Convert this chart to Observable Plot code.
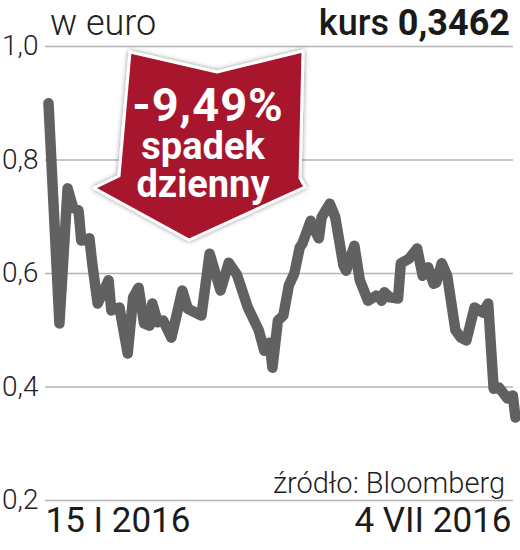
<!DOCTYPE html>
<html>
<head>
<meta charset="utf-8">
<script src="https://cdn.jsdelivr.net/npm/d3@7"></script>
<script src="https://cdn.jsdelivr.net/npm/@observablehq/plot@0.6"></script>
<style>
  html, body { margin: 0; padding: 0; background: #fff; }
  #wrap { position: relative; width: 520px; height: 550px; overflow: hidden; }
  #wrap svg.overlay { position: absolute; left: 0; top: 0; pointer-events: none; }
</style>
</head>
<body>
<div id="wrap"></div>
<script>
const dates = [
  "2016-01-15","2016-01-19","2016-01-22","2016-01-24","2016-01-26","2016-01-27","2016-01-30","2016-01-31",
  "2016-02-02","2016-02-06","2016-02-07","2016-02-10","2016-02-13","2016-02-15","2016-02-17","2016-02-19",
  "2016-02-21","2016-02-22","2016-02-24","2016-02-26","2016-02-29","2016-03-04","2016-03-06","2016-03-11",
  "2016-03-14","2016-03-18","2016-03-21","2016-03-24","2016-03-28","2016-04-01","2016-04-03","2016-04-05",
  "2016-04-06","2016-04-08","2016-04-10","2016-04-12","2016-04-14","2016-04-16","2016-04-17","2016-04-20",
  "2016-04-21","2016-04-23","2016-04-24","2016-04-27","2016-04-29","2016-05-02","2016-05-03","2016-05-06",
  "2016-05-08","2016-05-11","2016-05-14","2016-05-15","2016-05-16","2016-05-17","2016-05-19","2016-05-22",
  "2016-05-23","2016-05-26","2016-05-29","2016-05-31","2016-06-02","2016-06-04","2016-06-05","2016-06-07",
  "2016-06-09","2016-06-12","2016-06-14","2016-06-16","2016-06-19","2016-06-22","2016-06-24","2016-06-26",
  "2016-06-28","2016-07-01","2016-07-03","2016-07-04"
];
const values = [
  0.900,0.512,0.750,0.716,0.711,0.658,0.662,0.618,
  0.547,0.588,0.535,0.540,0.459,0.558,0.575,0.512,
  0.508,0.547,0.514,0.517,0.487,0.570,0.538,0.526,
  0.635,0.570,0.619,0.598,0.540,0.500,0.464,0.478,
  0.434,0.517,0.526,0.579,0.600,0.646,0.653,0.693,
  0.681,0.662,0.699,0.723,0.699,0.614,0.605,0.649,
  0.588,0.552,0.561,0.559,0.552,0.567,0.558,0.556,
  0.618,0.626,0.644,0.596,0.611,0.582,0.584,0.618,
  0.596,0.500,0.487,0.482,0.540,0.531,0.547,0.397,
  0.399,0.380,0.385,0.3462
];
const yTicks = [0.2, 0.4, 0.6, 0.8, 1.0];
const yTickLabels = ["0,2", "0,4", "0,6", "0,8", "1,0"];
const dateLabels = ["15 I 2016", "4 VII 2016"];
const titleText = "w euro";
const kursLabel = "kurs";
const kursValue = "0,3462";
const sourceText = "źródło: Bloomberg";
const badgeLines = ["-9,49%", "spadek", "dzienny"];

const parse = d3.utcParse("%Y-%m-%d");
const data = dates.map((d, i) => ({date: parse(d), value: values[i]}));
const first = data[0].date, last = data[data.length - 1].date;

const FONT = "Roboto, 'Noto Sans', sans-serif";

const chart = Plot.plot({
  width: 520,
  height: 550,
  marginTop: 46,
  marginBottom: 50,
  marginLeft: 48,
  marginRight: 5,
  style: {fontFamily: FONT, fontSize: "28px", fontWeight: 300, color: "#222", background: "transparent"},
  x: {type: "utc", domain: [first, last], axis: null},
  y: {
    domain: [0.2, 1.0],
    ticks: yTicks,
    tickFormat: (d) => yTickLabels[yTicks.findIndex(t => Math.abs(t - d) < 1e-9)],
    tickSize: 0,
    tickPadding: 10,
    label: null
  },
  marks: [
    Plot.ruleY(yTicks, {stroke: "#b5b5b5", strokeWidth: 1.5, insetLeft: -3, insetRight: 2}),
    Plot.lineY(data, {x: "date", y: "value", stroke: "#616161", strokeWidth: 10.5, strokeLinejoin: "round", strokeLinecap: "round"}),
    Plot.text([dateLabels[0]], {x: () => first, frameAnchor: "bottom", text: d => d, textAnchor: "start", dx: -3, dy: 31, fontSize: 35, fontWeight: 400, fill: "#1b1b1b"}),
    Plot.text([dateLabels[1]], {x: () => last, frameAnchor: "bottom", text: d => d, textAnchor: "end", dx: -4, dy: 31, fontSize: 35, fontWeight: 400, fill: "#1b1b1b"})
  ]
});
document.getElementById("wrap").appendChild(chart);

// overlay: titles, caption and the badge arrow
const ns = "http://www.w3.org/2000/svg";
const ov = d3.select("#wrap").append("svg")
  .attr("class", "overlay").attr("width", 520).attr("height", 550)
  .attr("xmlns", ns).style("font-family", FONT);

const defs = ov.append("defs");
const f = defs.append("filter").attr("id", "sh").attr("x", "-20%").attr("y", "-20%").attr("width", "140%").attr("height", "140%");
f.append("feDropShadow").attr("dx", 0).attr("dy", 0).attr("stdDeviation", 2.5).attr("flood-color", "#000").attr("flood-opacity", 0.45);

ov.append("text").attr("x", 50).attr("y", 35).attr("font-size", 36).attr("font-weight", 300).attr("fill", "#1e1e1e").text(titleText);

const k = ov.append("text").attr("x", 510).attr("y", 35).attr("text-anchor", "end").attr("font-size", 36).attr("fill", "#1a1a1a");
k.append("tspan").attr("font-weight", 500).text(kursLabel + " ");
k.append("tspan").attr("font-weight", 700).text(kursValue);

ov.append("text").attr("x", 505).attr("y", 493).attr("text-anchor", "end").attr("font-size", 29).attr("font-weight", 300).attr("fill", "#1e1e1e").text(sourceText);

const arrowPts = [[130,52],[217,72],[303,51],[300,178],[305,187],[189,240],[94,188],[119,176]];
ov.append("polygon")
  .attr("points", arrowPts.map(p => p.join(",")).join(" "))
  .attr("fill", "#a8122d").attr("stroke", "#fff").attr("stroke-width", 3).attr("stroke-linejoin", "round")
  .attr("filter", "url(#sh)");

const bt = ov.append("g").attr("fill", "#fff").attr("font-weight", 700).attr("text-anchor", "middle");
bt.append("text").attr("x", 208).attr("y", 121).attr("font-size", 47).attr("letter-spacing", 1).text(badgeLines[0]);
bt.append("text").attr("x", 203).attr("y", 159).attr("font-size", 38).text(badgeLines[1]);
bt.append("text").attr("x", 203).attr("y", 197).attr("font-size", 38).text(badgeLines[2]);
</script>
</body>
</html>
